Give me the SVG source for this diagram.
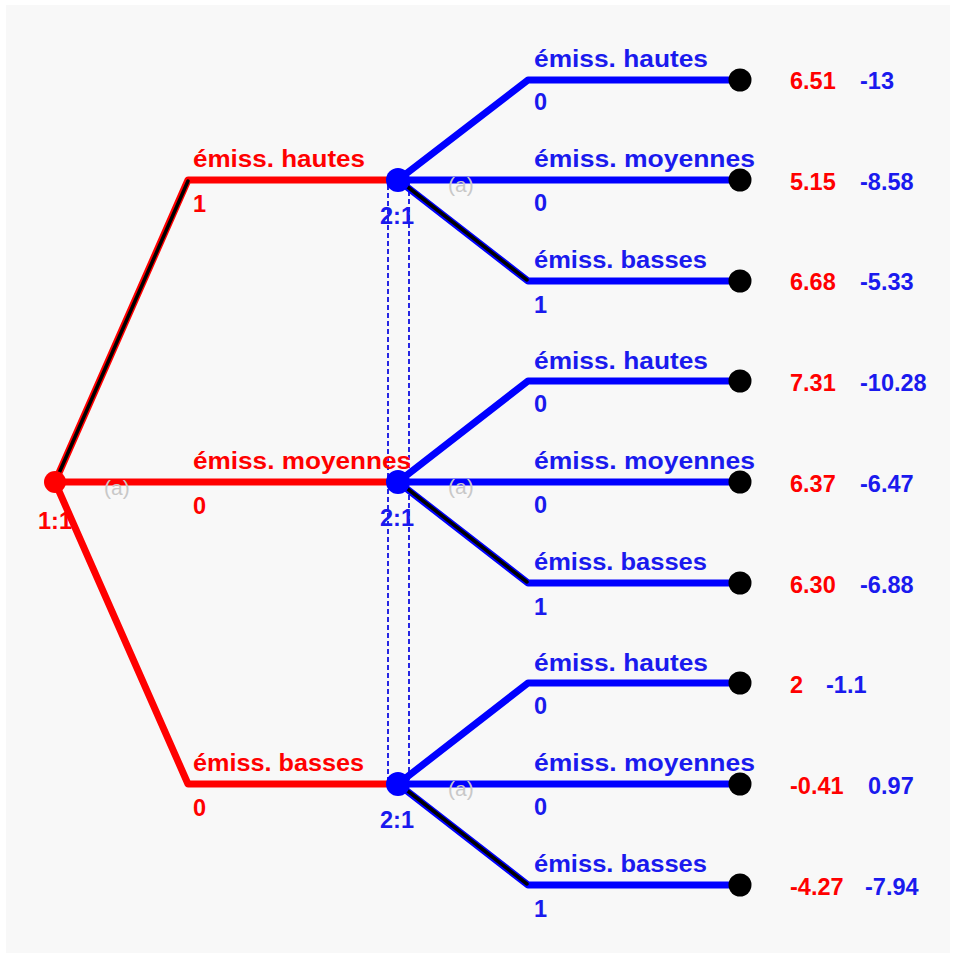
<svg xmlns="http://www.w3.org/2000/svg" width="954" height="953" viewBox="0 0 954 953">
  <style>
    text { font-family: "Liberation Sans", Arial, sans-serif; font-weight: bold; font-size: 23.5px; }
    .p1 { fill: #ff0000; }
    .p2 { fill: #1a1aee; }
    .gray { fill: #c8c8c8; font-weight: normal; font-size: 21px; }
    .e1 { stroke: #ff0000; stroke-width: 7; fill: none; stroke-linejoin: round; }
    .e2 { stroke: #0000ff; stroke-width: 7; fill: none; stroke-linejoin: round; }
    .best { stroke: #000000; stroke-width: 3.5; fill: none; stroke-linecap: round; }
    .info { stroke: #1010e0; stroke-width: 1.8; stroke-dasharray: 5 3; fill: none; }
  </style>
  <rect width="954" height="953" fill="#ffffff"/>
  <rect x="6" y="5" width="944" height="948" fill="#f8f8f8"/>

  <!-- information set of player 2 -->
  <rect class="info" x="388" y="180" width="21" height="604"/>

  <g id="connectors">
    <!-- player 1 moves -->
    <polyline class="e1" points="55,482 188,180 398,180"/>
    <polyline class="e1" points="55,482 398,482"/>
    <polyline class="e1" points="55,482 188,784 398,784"/>
    <line class="best" x1="56" y1="480" x2="188" y2="181"/>
    <!-- player 2 moves after high -->
    <polyline class="e2" points="398,180 528,80 740,80"/>
    <polyline class="e2" points="398,180 740,180"/>
    <polyline class="e2" points="398,180 528,281 740,281"/>
    <line class="best" x1="400" y1="181" x2="527" y2="280"/>
    <!-- player 2 moves after medium -->
    <polyline class="e2" points="398,482 528,381 740,381"/>
    <polyline class="e2" points="398,482 740,482"/>
    <polyline class="e2" points="398,482 528,583 740,583"/>
    <line class="best" x1="400" y1="483" x2="527" y2="582"/>
    <!-- player 2 moves after low -->
    <polyline class="e2" points="398,784 528,683 740,683"/>
    <polyline class="e2" points="398,784 740,784"/>
    <polyline class="e2" points="398,784 528,885 740,885"/>
    <line class="best" x1="400" y1="785" x2="527" y2="884"/>
  </g>

  <!-- edge labels, player 1 -->
  <g id="labels-p1">
    <text class="p1" x="193" y="167" textLength="172" lengthAdjust="spacingAndGlyphs">émiss. hautes</text>
    <text class="p1" x="193" y="212">1</text>
    <text class="p1" x="193" y="469" textLength="218" lengthAdjust="spacingAndGlyphs">émiss. moyennes</text>
    <text class="p1" x="193" y="514">0</text>
    <text class="p1" x="193" y="771" textLength="171" lengthAdjust="spacingAndGlyphs">émiss. basses</text>
    <text class="p1" x="193" y="816">0</text>
    <text class="gray" x="104" y="495">(a)</text>
  </g>

  <!-- edge labels, player 2 -->
  <g id="labels-p2">
    <text class="p2" x="534" y="67" textLength="174" lengthAdjust="spacingAndGlyphs">émiss. hautes</text>
    <text class="p2" x="534" y="110">0</text>
    <text class="p2" x="534" y="167" textLength="221" lengthAdjust="spacingAndGlyphs">émiss. moyennes</text>
    <text class="p2" x="534" y="211">0</text>
    <text class="p2" x="534" y="268" textLength="173" lengthAdjust="spacingAndGlyphs">émiss. basses</text>
    <text class="p2" x="534" y="313">1</text>
    <text class="gray" x="448" y="192">(a)</text>

    <text class="p2" x="534" y="369" textLength="174" lengthAdjust="spacingAndGlyphs">émiss. hautes</text>
    <text class="p2" x="534" y="412">0</text>
    <text class="p2" x="534" y="469" textLength="221" lengthAdjust="spacingAndGlyphs">émiss. moyennes</text>
    <text class="p2" x="534" y="513">0</text>
    <text class="p2" x="534" y="570" textLength="173" lengthAdjust="spacingAndGlyphs">émiss. basses</text>
    <text class="p2" x="534" y="615">1</text>
    <text class="gray" x="448" y="494">(a)</text>

    <text class="p2" x="534" y="671" textLength="174" lengthAdjust="spacingAndGlyphs">émiss. hautes</text>
    <text class="p2" x="534" y="714">0</text>
    <text class="p2" x="534" y="771" textLength="221" lengthAdjust="spacingAndGlyphs">émiss. moyennes</text>
    <text class="p2" x="534" y="815">0</text>
    <text class="p2" x="534" y="872" textLength="173" lengthAdjust="spacingAndGlyphs">émiss. basses</text>
    <text class="p2" x="534" y="917">1</text>
    <text class="gray" x="448" y="796">(a)</text>
  </g>

  <!-- decision nodes -->
  <g id="node-root">
    <circle cx="55" cy="482" r="11" fill="#ff0000"/>
    <text class="p1" x="38" y="529">1:1</text>
  </g>
  <g id="node-p2-high">
    <circle cx="398" cy="180" r="12" fill="#0000ff"/>
    <text class="p2" x="380" y="224">2:1</text>
  </g>
  <g id="node-p2-medium">
    <circle cx="398" cy="482" r="12" fill="#0000ff"/>
    <text class="p2" x="380" y="526">2:1</text>
  </g>
  <g id="node-p2-low">
    <circle cx="398" cy="784" r="12" fill="#0000ff"/>
    <text class="p2" x="380" y="828">2:1</text>
  </g>

  <!-- terminal nodes with payoffs -->
  <g id="leaf-1"><circle cx="740" cy="80" r="11.5" fill="#000"/><text class="p1" x="790" y="89">6.51</text><text class="p2" x="860" y="89">-13</text></g>
  <g id="leaf-2"><circle cx="740" cy="180" r="11.5" fill="#000"/><text class="p1" x="790" y="190">5.15</text><text class="p2" x="860" y="190">-8.58</text></g>
  <g id="leaf-3"><circle cx="740" cy="281" r="11.5" fill="#000"/><text class="p1" x="790" y="290">6.68</text><text class="p2" x="860" y="290">-5.33</text></g>
  <g id="leaf-4"><circle cx="740" cy="381" r="11.5" fill="#000"/><text class="p1" x="790" y="391">7.31</text><text class="p2" x="860" y="391">-10.28</text></g>
  <g id="leaf-5"><circle cx="740" cy="482" r="11.5" fill="#000"/><text class="p1" x="790" y="492">6.37</text><text class="p2" x="860" y="492">-6.47</text></g>
  <g id="leaf-6"><circle cx="740" cy="583" r="11.5" fill="#000"/><text class="p1" x="790" y="593">6.30</text><text class="p2" x="860" y="593">-6.88</text></g>
  <g id="leaf-7"><circle cx="740" cy="683" r="11.5" fill="#000"/><text class="p1" x="790" y="693">2</text><text class="p2" x="826" y="693">-1.1</text></g>
  <g id="leaf-8"><circle cx="740" cy="784" r="11.5" fill="#000"/><text class="p1" x="790" y="794">-0.41</text><text class="p2" x="868" y="794">0.97</text></g>
  <g id="leaf-9"><circle cx="740" cy="885" r="11.5" fill="#000"/><text class="p1" x="790" y="895">-4.27</text><text class="p2" x="865" y="895">-7.94</text></g>
</svg>
